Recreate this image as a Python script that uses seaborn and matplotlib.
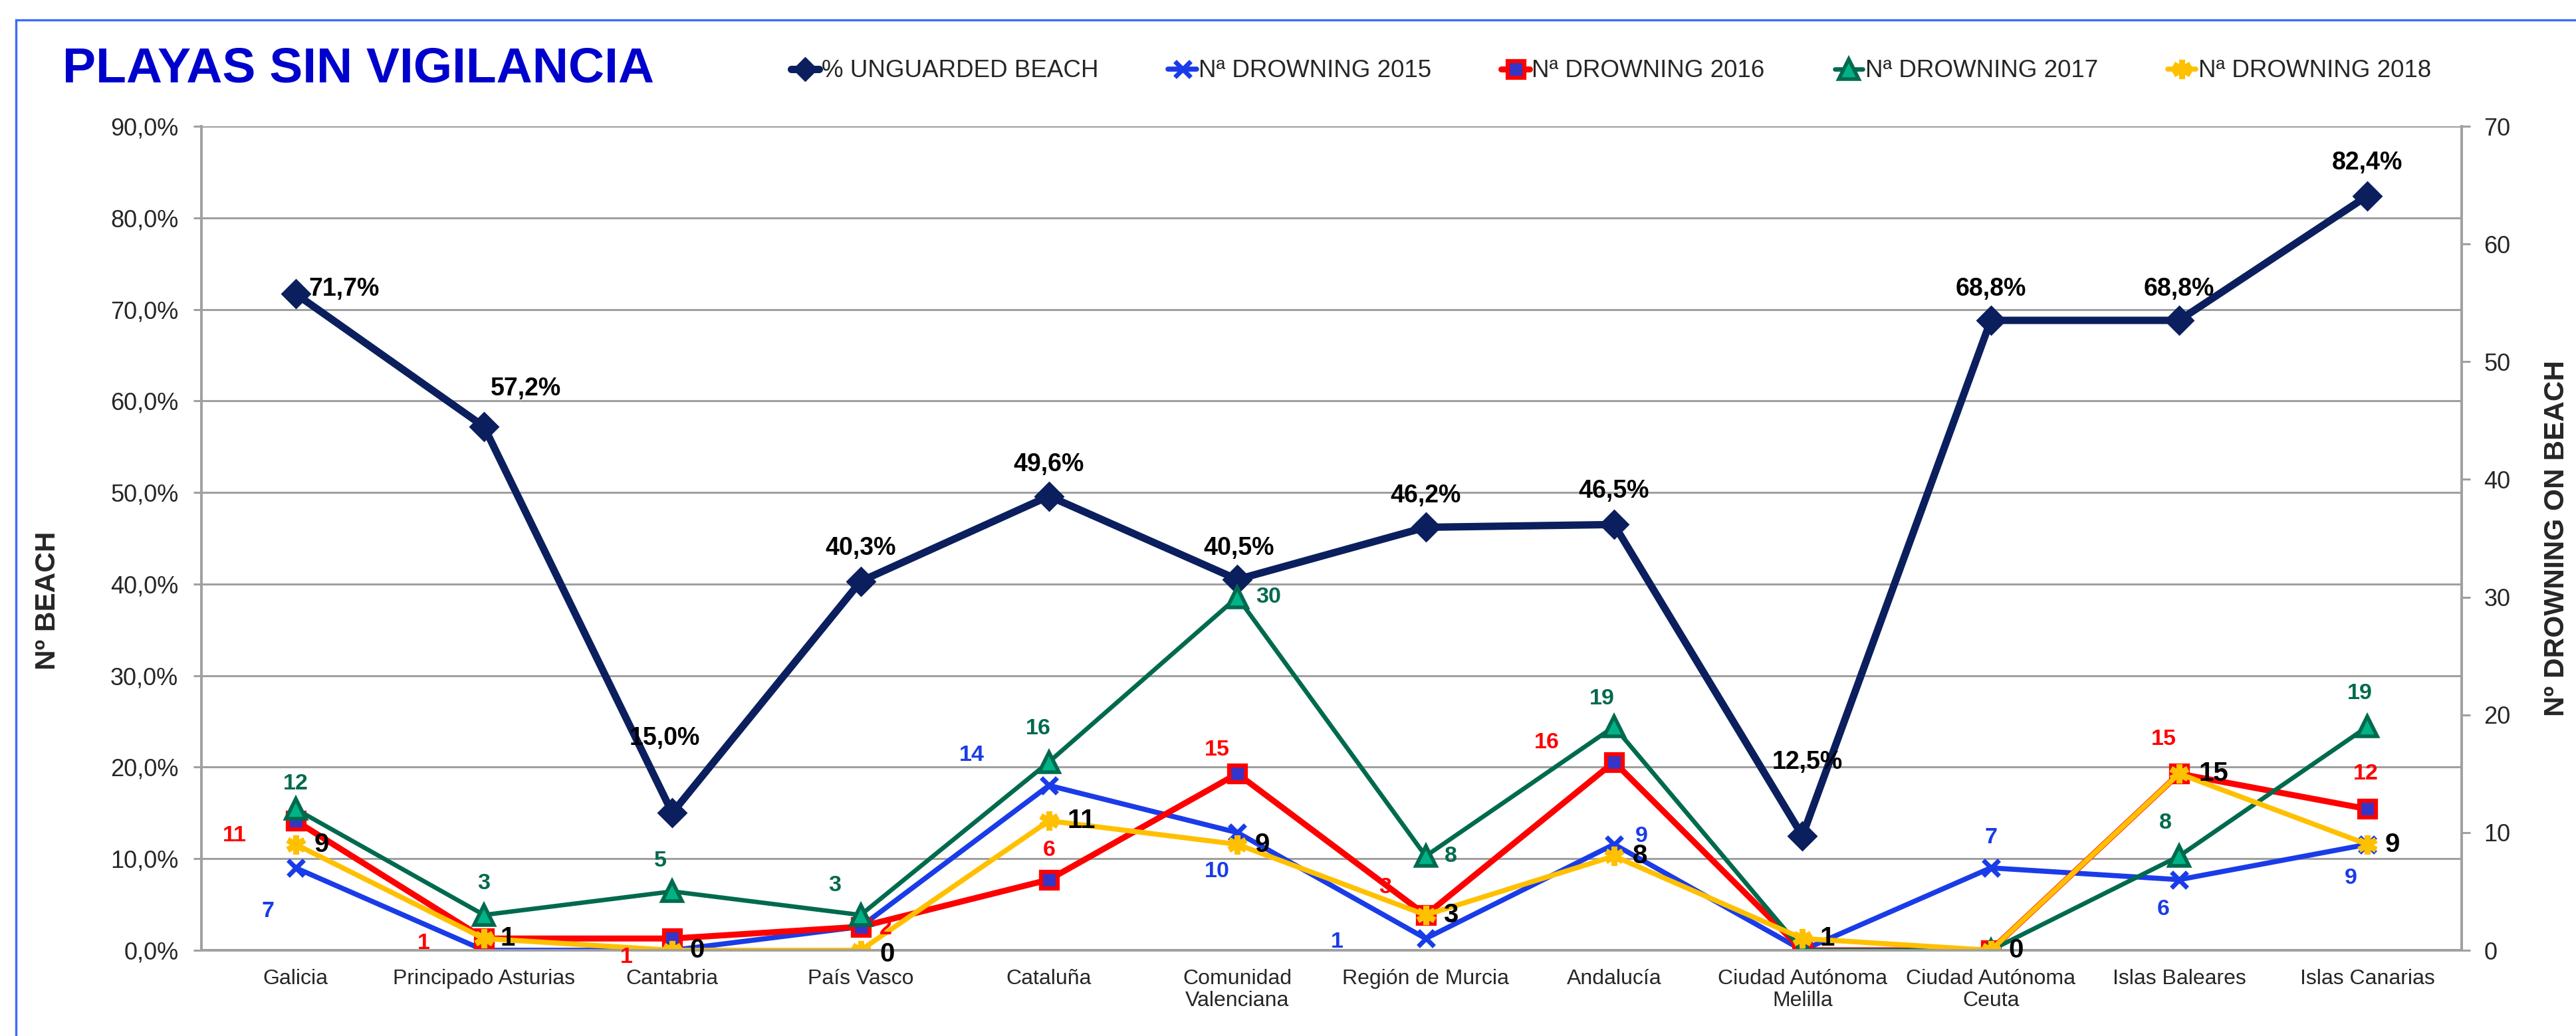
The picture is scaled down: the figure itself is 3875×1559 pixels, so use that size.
import numpy as np
import pandas as pd
import matplotlib
matplotlib.use("Agg")
import matplotlib.pyplot as plt
import seaborn as sns
from matplotlib.lines import Line2D
from matplotlib.patches import Rectangle

# ---------------- data ----------------
categories = ["Galicia", "Principado Asturias", "Cantabria", "País Vasco", "Cataluña",
              "Comunidad\nValenciana", "Región de Murcia", "Andalucía",
              "Ciudad Autónoma\nMelilla", "Ciudad Autónoma\nCeuta", "Islas Baleares",
              "Islas Canarias"]
pct_unguarded = [71.7, 57.2, 15.0, 40.3, 49.6, 40.5, 46.2, 46.5, 12.5, 68.8, 68.8, 82.4]
drown_2015 = [7, 0, 0, 2, 14, 10, 1, 9, 0, 7, 6, 9]
drown_2016 = [11, 1, 1, 2, 6, 15, 3, 16, 0, 0, 15, 12]
drown_2017 = [12, 3, 5, 3, 16, 30, 8, 19, 0, 0, 8, 19]
drown_2018 = [9, 1, 0, 0, 11, 9, 3, 8, 1, 0, 15, 9]

series_names = ["% UNGUARDED BEACH", "Nª DROWNING 2015", "Nª DROWNING 2016",
                "Nª DROWNING 2017", "Nª DROWNING 2018"]
left_ticks = [0, 10, 20, 30, 40, 50, 60, 70, 80, 90]
right_ticks = [0, 10, 20, 30, 40, 50, 60, 70]

# ---------------- label placement (points offsets; None = hidden) ----------------
off_pct = [(14, 5, "left"), (45, 41, "center"), (-8, 81, "center"), (0, 36, "center"),
           (0, 34, "center"), (2, 34, "center"), (0, 34, "center"), (0, 36, "center"),
           (5, 80, "center"), (0, 34, "center"), (0, 34, "center"), (0, 36, "center")]
off_2015 = [(-30, -47), None, None, None, (-84, 33), (-22, -42), (-96, -4), (30, 9),
            None, (0, 33), (-17, -32), (-18, -37)]
off_2016 = [(-66, -16), (-65, -5), (-50, -20), (27, -2), (0, 32), (-22, 26), (-44, 30),
            (-73, 21), None, None, (-17, 37), (-2, 38)]
off_2017 = [(0, 27), (0, 34), (-13, 33), (-28, 32), (-12, 36), (34, 0), (27, 0), (-13, 30),
            None, None, (-15, 36), (-8, 36)]
off_2018 = [(28, 0), (26, 0), (27, 0), (29, -4), (35, 0), (27, 0), (27, 0), (28, 0),
            (27, 0), (27, 0), (37, 0), (27, 0)]

# ---------------- style ----------------
sns.set_style("white")
plt.rcParams["font.family"] = ["Liberation Sans", "DejaVu Sans"]

NAVY = "#0B1F5E"
BLUE = "#1A3CE8"
RED = "#FF0000"
GREEN = "#006A4E"
GREEN_FILL = "#00B386"
YELLOW = "#FFC000"
GRID = "#A0A0A0"

W, H = 3875, 1559
fig = plt.figure(figsize=(W / 100, H / 100), dpi=100)
ax = fig.add_axes([303 / W, (H - 1430) / H, 3400 / W, 1240 / H])
ax2 = ax.twinx()

x = np.arange(len(categories))
df = pd.DataFrame({"x": x, "pct": pct_unguarded, "d2015": drown_2015, "d2016": drown_2016,
                   "d2017": drown_2017, "d2018": drown_2018})

sns.lineplot(data=df, x="x", y="pct", ax=ax, color=NAVY, linewidth=8, marker="D",
             markersize=21, markerfacecolor=NAVY, markeredgecolor=NAVY,
             markeredgewidth=2, legend=False, zorder=3)

styles = {
    "d2015": dict(color=BLUE, linewidth=5.5, marker="x", markersize=17,
                  markerfacecolor=BLUE, markeredgecolor=BLUE, markeredgewidth=5),
    "d2016": dict(color=RED, linewidth=6.5, marker="s", markersize=18,
                  markerfacecolor="#3535C8", markeredgecolor=RED, markeredgewidth=4.5),
    "d2017": dict(color=GREEN, linewidth=4.8, marker="^", markersize=21,
                  markerfacecolor=GREEN_FILL, markeredgecolor=GREEN, markeredgewidth=4),
    "d2018": dict(color=YELLOW, linewidth=5.5, marker=(6, 2, 0), markersize=21,
                  markerfacecolor=YELLOW, markeredgecolor=YELLOW, markeredgewidth=6.5),
}
for key, st in styles.items():
    sns.lineplot(data=df, x="x", y=key, ax=ax2, legend=False, **st)

# ---------------- axes ----------------
ax.set_xlim(-0.5, len(categories) - 0.5)
ax.set_ylim(0, 90)
ax2.set_ylim(0, 70)
ax.set_yticks(left_ticks)
ax.set_yticklabels([f"{t:.1f}%".replace(".", ",") for t in left_ticks], fontsize=26)
ax2.set_yticks(right_ticks)
ax2.set_yticklabels([str(t) for t in right_ticks], fontsize=26)
ax.set_xticks(x)
ax.set_xticklabels(categories, fontsize=23, linespacing=1.15)
ax.set_xticks(np.arange(-0.5, len(categories), 1.0), minor=True)
ax.tick_params(axis="x", which="major", length=0, pad=20)
ax.tick_params(axis="x", which="minor", length=9, width=2.2, color=GRID, direction="out")
ax.tick_params(axis="y", length=9, width=2.2, color=GRID, direction="out", pad=16)
ax2.tick_params(axis="y", length=9, width=2.2, color=GRID, direction="out", pad=15)

ax.grid(axis="y", color=GRID, linewidth=2.2)
ax.grid(axis="x", visible=False)
ax.set_axisbelow(True)
for a in (ax, ax2):
    a.spines["top"].set_visible(False)
    for s in ("left", "right", "bottom"):
        a.spines[s].set_color(GRID)
        a.spines[s].set_linewidth(2.6)
    a.set_xlabel("")
ax.set_ylabel("Nº BEACH", fontsize=30.5, fontweight="bold", labelpad=0)
ax2.set_ylabel("Nº DROWNING ON BEACH", fontsize=30.5, fontweight="bold", labelpad=0)
ax.yaxis.set_label_coords((92 - 303) / 3400, (1430 - 904) / 1240)
ax2.yaxis.set_label_coords((3826 - 303) / 3400, (1430 - 810) / 1240)
ax2.yaxis.label.set_rotation(90)

# ---------------- data labels ----------------
for i, v in enumerate(pct_unguarded):
    dx, dy, ha = off_pct[i]
    ax.annotate(f"{v:.1f}%".replace(".", ","), (x[i], v), xytext=(dx, dy),
                textcoords="offset points", ha=ha, va="center", fontsize=27,
                fontweight="bold", color="black", zorder=6)

for vals, offs, col, fs in [(drown_2015, off_2015, BLUE, 24.5),
                            (drown_2016, off_2016, RED, 24.5),
                            (drown_2017, off_2017, GREEN, 24.5),
                            (drown_2018, off_2018, "black", 29)]:
    for i, v in enumerate(vals):
        if offs[i] is None:
            continue
        dx, dy = offs[i]
        ax2.annotate(str(v), (x[i], v), xytext=(dx, dy), textcoords="offset points",
                     ha="center", va="center", fontsize=fs, fontweight="bold",
                     color=col, zorder=6)

# ---------------- title & legend ----------------
fig.text(94 / W, 1 - 124 / H, "PLAYAS SIN VIGILANCIA", fontsize=54, fontweight="bold",
         color="#0000CC", ha="left", va="baseline")

handles = [Line2D([], [], color=NAVY, linewidth=8, marker="D", markersize=18,
                  markerfacecolor=NAVY, markeredgecolor=NAVY)]
for key in ["d2015", "d2016", "d2017", "d2018"]:
    st = dict(styles[key])
    handles.append(Line2D([], [], **st))
fig.legend(handles, series_names, loc="center left", bbox_to_anchor=(1190 / W, 1 - 107 / H),
           ncol=5, frameon=False, fontsize=26.5, handlelength=1.15, handletextpad=0.1,
           columnspacing=2.85, borderpad=0, borderaxespad=0)

# ---------------- outer frame ----------------
fig.patches.append(Rectangle((24 / W, -0.05), 1.1, 1 - 30 / H + 0.05,
                             transform=fig.transFigure, fill=False,
                             edgecolor="#3B6BF5", linewidth=2.4, clip_on=False))

fig.savefig("out.png", dpi=100)
